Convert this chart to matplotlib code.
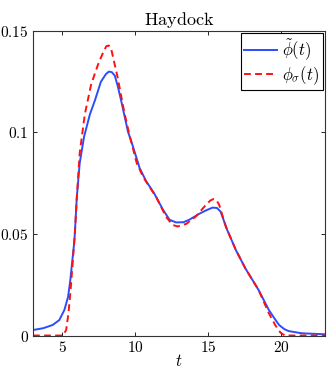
import matplotlib
matplotlib.use('Agg')
from matplotlib import pyplot as plt

plt.rcParams['mathtext.fontset'] = 'cm'
plt.rcParams['font.family'] = 'serif'

# values
t_tilde = [3, 3.7, 4.35, 4.8, 5.15, 5.4, 5.55, 5.68, 5.84, 6.0, 6.2, 6.5, 6.9, 7.25,
           7.65, 8.0, 8.2, 8.4, 8.6, 8.8, 9.05, 9.5, 9.85, 10.3, 10.75, 11.3, 11.9,
           12.35, 12.8, 13.3, 13.7, 14.4, 14.9, 15.3, 15.6, 15.85, 16.3, 16.9, 17.55,
           18.45, 19.15, 19.5, 19.85, 20.2, 20.5, 21.4, 23]
phi_tilde = [0.0027, 0.0036, 0.0052, 0.0076, 0.0126, 0.019, 0.027, 0.036, 0.047, 0.068,
             0.085, 0.098, 0.109, 0.116, 0.125, 0.1288, 0.130, 0.1297, 0.128, 0.123,
             0.1153, 0.1005, 0.093, 0.0825, 0.076, 0.070, 0.062, 0.057, 0.0557, 0.0558,
             0.057, 0.060, 0.0618, 0.063, 0.0628, 0.061, 0.052, 0.042, 0.033, 0.0224,
             0.0126, 0.0088, 0.0052, 0.0032, 0.0022, 0.0011, 0.0006]

t_sigma = [3, 5.05, 5.27, 5.43, 5.57, 5.73, 5.88, 6.0, 6.2, 6.55, 6.98, 7.45, 7.75,
           8.02, 8.2, 8.36, 8.8, 9.25, 9.55, 10.1, 10.55, 11.45, 12.1, 12.55, 12.9,
           13.5, 14.15, 14.85, 15.15, 15.35, 15.55, 15.75, 16.2, 16.9, 17.55, 18.45,
           19.15, 19.6, 19.95, 20.25, 23]
phi_sigma = [0, 0, 0.0027, 0.011, 0.022, 0.037, 0.052, 0.068, 0.090, 0.109, 0.1236,
             0.1334, 0.1385, 0.1425, 0.1428, 0.141, 0.127, 0.110, 0.1005, 0.085, 0.078,
             0.068, 0.0586, 0.0545, 0.0537, 0.055, 0.0586, 0.0644, 0.0665, 0.0672,
             0.0668, 0.0644, 0.0537, 0.042, 0.033, 0.0224, 0.011, 0.005, 0.0014, 0, 0]

xticks = [5, 10, 15, 20]
yticks = [0, 0.05, 0.1, 0.15]
ytick_labels = ['$0$', '$0.05$', '$0.1$', '$0.15$']

fig = plt.figure(figsize=(3.32, 3.73), dpi=100)
ax = fig.add_axes([0.0994, 0.1005, 0.8796, 0.8165])

ax.plot(t_tilde, phi_tilde, color='#2b4cff', lw=1.4, label=r'$\tilde{\phi}(t)$')
ax.plot(t_sigma, phi_sigma, color='#ff1010', lw=1.4, dashes=(3.5, 2.2),
        label=r'$\phi_\sigma(t)$')

ax.set_xlim(3, 23)
ax.set_ylim(0, 0.15)
ax.set_xticks(xticks)
ax.set_xticklabels(['$%d$' % v for v in xticks])
ax.set_yticks(yticks)
ax.set_yticklabels(ytick_labels)
ax.tick_params(direction='in', top=True, right=True, length=3, labelsize=11,
               width=0.6, pad=3)
for s in ax.spines.values():
    s.set_linewidth(0.8)
    s.set_color('#333333')

ax.set_xlabel('$t$', fontsize=12, labelpad=-1)
ax.set_title(r'$\mathrm{Haydock}$', fontsize=13, pad=4)

leg = ax.legend(loc='upper right', fontsize=12, frameon=True, fancybox=False,
                edgecolor='black', framealpha=1, borderaxespad=0.15,
                handlelength=2.0, handletextpad=0.3, borderpad=0.2,
                labelspacing=0.1)
leg.get_frame().set_linewidth(0.8)

fig.savefig('out.png', dpi=100)
